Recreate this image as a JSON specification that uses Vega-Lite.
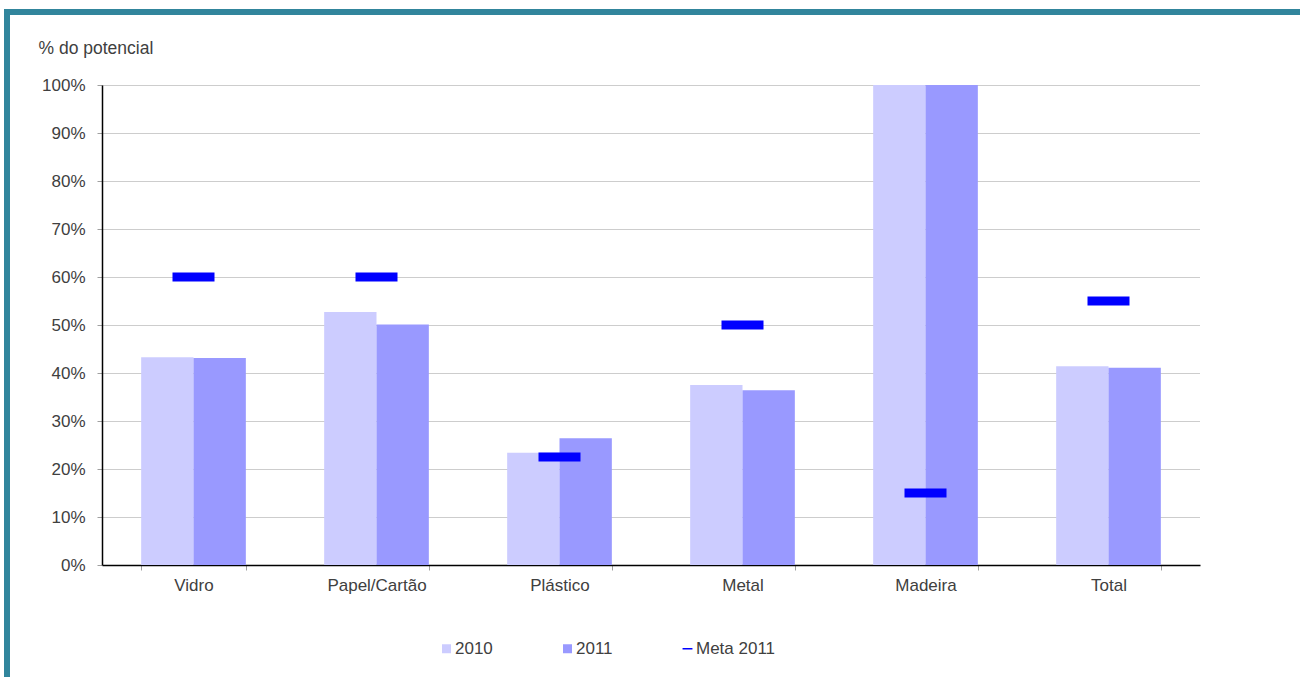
{
  "$schema": "https://vega.github.io/schema/vega-lite/v6.json",
  "padding": {"left": 4, "top": 9, "right": 0, "bottom": 0},
  "background": "white",
  "config": {"font": "Liberation Sans", "view": {"stroke": null}},
  "bounds": "flush",
  "spacing": 0,
  "resolve": {"scale": {"color": "independent"}, "legend": {"color": "independent"}},
  "hconcat": [
    {
      "width": 6,
      "height": 668,
      "view": {"fill": "#31859C", "stroke": null},
      "data": {"values": [{"k": 1}]},
      "mark": {"type": "point", "opacity": 0},
      "encoding": {}
    },
    {
      "bounds": "flush",
      "spacing": 70,
      "resolve": {"scale": {"color": "independent"}, "legend": {"color": "independent"}},
      "vconcat": [
        {
          "width": 1290,
          "height": 6,
          "view": {"fill": "#31859C", "stroke": null},
          "data": {"values": [{"k": 1}]},
          "mark": {"type": "point", "opacity": 0},
          "encoding": {}
        },
        {
          "bounds": "flush",
          "spacing": 0,
          "resolve": {"scale": {"color": "independent"}, "legend": {"color": "independent"}},
          "hconcat": [
            {
              "width": 92,
              "height": 1,
              "data": {"values": [{"k": 1}]},
              "mark": {"type": "point", "opacity": 0},
              "encoding": {}
            },
            {
              "width": 1098,
              "height": 480,
              "data": {
                "values": [
                  {"cat": "Vidro", "serie": "2010", "v": 0.433},
                  {"cat": "Vidro", "serie": "2011", "v": 0.431},
                  {"cat": "Vidro", "serie": "Meta 2011", "v": 0.60},
                  {"cat": "Papel/Cartão", "serie": "2010", "v": 0.527},
                  {"cat": "Papel/Cartão", "serie": "2011", "v": 0.501},
                  {"cat": "Papel/Cartão", "serie": "Meta 2011", "v": 0.60},
                  {"cat": "Plástico", "serie": "2010", "v": 0.234},
                  {"cat": "Plástico", "serie": "2011", "v": 0.264},
                  {"cat": "Plástico", "serie": "Meta 2011", "v": 0.225},
                  {"cat": "Metal", "serie": "2010", "v": 0.375},
                  {"cat": "Metal", "serie": "2011", "v": 0.364},
                  {"cat": "Metal", "serie": "Meta 2011", "v": 0.50},
                  {"cat": "Madeira", "serie": "2010", "v": 1.0},
                  {"cat": "Madeira", "serie": "2011", "v": 1.0},
                  {"cat": "Madeira", "serie": "Meta 2011", "v": 0.15},
                  {"cat": "Total", "serie": "2010", "v": 0.414},
                  {"cat": "Total", "serie": "2011", "v": 0.411},
                  {"cat": "Total", "serie": "Meta 2011", "v": 0.55}
                ]
              },
              "encoding": {
                "x": {
                  "field": "cat",
                  "type": "nominal",
                  "scale": {
                    "domain": ["Vidro", "Papel/Cartão", "Plástico", "Metal", "Madeira", "Total"],
                    "paddingInner": 0.428,
                    "paddingOuter": 0.214
                  },
                  "axis": {
                    "title": null,
                    "labelAngle": 0,
                    "domainColor": "#000000",
                    "domainWidth": 1.5,
                    "tickBand": "extent",
                    "tickColor": "#A0A0A0",
                    "tickSize": 5,
                    "labelPadding": 7,
                    "labelFontSize": 17,
                    "labelColor": "#404040",
                    "grid": false
                  }
                },
                "y": {
                  "field": "v",
                  "type": "quantitative",
                  "scale": {"domain": [0, 1], "nice": false},
                  "axis": {
                    "title": "% do potencial",
                    "titleAngle": 0,
                    "titleX": -64,
                    "titleY": -32,
                    "titleAlign": "left",
                    "titleBaseline": "alphabetic",
                    "titleFontSize": 17.5,
                    "titleFontWeight": "normal",
                    "titleColor": "#404040",
                    "values": [0, 0.1, 0.2, 0.3, 0.4, 0.5, 0.6, 0.7, 0.8, 0.9, 1],
                    "format": ".0%",
                    "domainColor": "#000000",
                    "domainWidth": 1.5,
                    "tickColor": "#A0A0A0",
                    "tickSize": 5,
                    "labelPadding": 12,
                    "labelFontSize": 17,
                    "labelColor": "#404040",
                    "grid": true,
                    "gridColor": "#9A9A9A",
                    "gridDash": [1, 1],
                    "gridWidth": 1
                  }
                },
                "color": {
                  "field": "serie",
                  "type": "nominal",
                  "scale": {
                    "domain": ["2010", "2011", "Meta 2011"],
                    "range": ["#CCCCFF", "#9999FF", "#0000FF"]
                  },
                  "legend": {
                    "orient": "none",
                    "legendX": 336,
                    "legendY": 555,
                    "direction": "horizontal",
                    "title": null,
                    "padding": 0,
                    "symbolSize": 81,
                    "symbolType": "square",
                    "symbolStrokeWidth": 0,
                    "symbolOpacity": 1,
                    "labelFontSize": 17,
                    "labelColor": "#404040",
                    "labelOffset": 0,
                    "columnPadding": 66,
                    "encode": {
                      "symbols": {
                        "update": {
                          "shape": {"signal": "datum.value === 'Meta 2011' ? 'M-1.1,-0.17H1.1V0.17H-1.1Z' : 'square'"}
                        }
                      }
                    }
                  }
                }
              },
              "layer": [
                {
                  "transform": [{"filter": "datum.serie !== 'Meta 2011'"}],
                  "mark": {"type": "bar", "opacity": 1},
                  "encoding": {
                    "xOffset": {
                      "field": "serie",
                      "type": "nominal",
                      "scale": {"domain": ["2010", "2011"], "paddingInner": 0, "paddingOuter": 0}
                    }
                  }
                },
                {
                  "transform": [{"filter": "datum.serie === 'Meta 2011'"}],
                  "mark": {"type": "tick", "size": 42, "thickness": 9, "opacity": 1},
                  "encoding": {}
                }
              ]
            }
          ]
        }
      ]
    }
  ]
}
